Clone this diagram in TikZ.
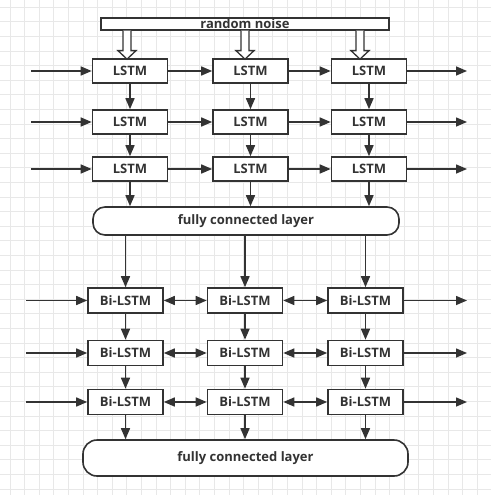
\documentclass[tikz,border=0pt]{standalone}
\usepackage{fontspec}
\setmainfont{Open Sans}
\usetikzlibrary{arrows.meta,calc}
\definecolor{ink}{HTML}{333333}
\definecolor{gridc}{HTML}{E8E8E8}
\begin{document}
\begin{tikzpicture}[x=1pt,y=-1pt,
  cell/.style={draw=ink,line width=1.6pt,fill=white,minimum height=24pt,
    inner sep=0pt,font=\fontsize{13}{15}\selectfont\bfseries,text=ink},
  lstm/.style={cell,minimum width=75pt},
  fcl/.style={draw=ink,line width=1.6pt,fill=white,rounded corners=12pt,inner sep=0pt,
    font=\fontsize{13}{15}\selectfont\bfseries,text=ink},
  arr/.style={draw=ink,line width=1.5pt,-{Triangle[length=11pt,width=9pt]}},
  darr/.style={draw=ink,line width=1.5pt,{Triangle[length=11pt,width=9pt]}-{Triangle[length=11pt,width=9pt]}},
  hollow/.style={draw=ink,line width=1.3pt,fill=white,line join=miter}]
\useasboundingbox (0,0) rectangle (491,495);
\fill[white] (0,0) rectangle (491,495);
\foreach \i in {0,...,32} \draw[gridc,line width=1pt] (10+14.6*\i,0) -- (10+14.6*\i,495);
\foreach \i in {0,...,33} \draw[gridc,line width=1pt] (0,7.3+14.6*\i) -- (491,7.3+14.6*\i);

% noise
\node[draw=ink,line width=1.3pt,fill=white,minimum width=288pt,minimum height=12pt,inner sep=0pt] (noise) at (245,24) {};
\node[font=\fontsize{13}{15}\selectfont\bfseries,text=ink,inner sep=0pt] (noisetxt) at (245,23.5) {random noise};

% LSTM rows
\foreach \r/\y in {1/71,2/122,3/169}{
  \node[lstm] (L\r1) at (130,\y) {LSTM};
  \node[lstm] (L\r2) at (250.5,\y) {LSTM};
  \node[lstm] (L\r3) at (369,\y) {LSTM};
}
\node[fcl,minimum width=306pt,minimum height=28pt] (fc1) at (246,221) {fully connected layer};

% Bi-LSTM rows
\foreach \r/\y in {1/300.5,2/353,3/402}{
  \node[lstm,minimum height=25pt] (B\r1) at (125.5,\y) {Bi-LSTM};
  \node[lstm,minimum height=25pt] (B\r2) at (245,\y) {Bi-LSTM};
  \node[lstm,minimum height=25pt] (B\r3) at (365.5,\y) {Bi-LSTM};
}
\node[fcl,minimum width=325pt,minimum height=36pt,rounded corners=14pt] (fc2) at (245.5,458) {fully connected layer};

% hollow arrows from noise
\foreach \c/\dx in {1/-3,2/-5.5,3/-9}{
  \draw[hollow] ($(noise.south -| L1\c)+(\dx-4,0)$) -- ++(0,20) -- ++(-5,0) -- ++(9,8.5) -- ++(9,-8.5) -- ++(-5,0) -- ++(0,-20);
}

% LSTM horizontal
\foreach \r in {1,2,3}{
  \coordinate (Lin\r) at (31,0 |- L\r1.west);
  \coordinate (Lout\r) at (467,0 |- L\r3.east);
  \path[arr] (Lin\r) -- (L\r1.west);
  \path[arr] (L\r1.east) -- (L\r2.west);
  \path[arr] (L\r2.east) -- (L\r3.west);
  \path[arr] (L\r3.east) -- (Lout\r);
}
% vertical
\foreach \c in {1,2,3}{
  \path[arr] (L1\c.south) -- (L2\c.north);
  \path[arr] (L2\c.south) -- (L3\c.north);
  \path[arr] (L3\c.south) -- (L3\c.south |- fc1.north);
  \path[arr] (fc1.south -| B1\c) -- (B1\c.north);
  \path[arr] (B1\c.south) -- (B2\c.north);
  \path[arr] (B2\c.south) -- (B3\c.north);
  \path[arr] (B3\c.south) -- (B3\c.south |- fc2.north);
}
% Bi horizontal
\foreach \r in {1,2,3}{
  \coordinate (Bin\r) at (26,0 |- B\r1.west);
  \coordinate (Bout\r) at (467,0 |- B\r3.east);
  \path[arr] (Bin\r) -- (B\r1.west);
  \path[darr] (B\r1.east) -- (B\r2.west);
  \path[darr] (B\r2.east) -- (B\r3.west);
  \path[arr] (B\r3.east) -- (Bout\r);
}
\end{tikzpicture}
\end{document}
